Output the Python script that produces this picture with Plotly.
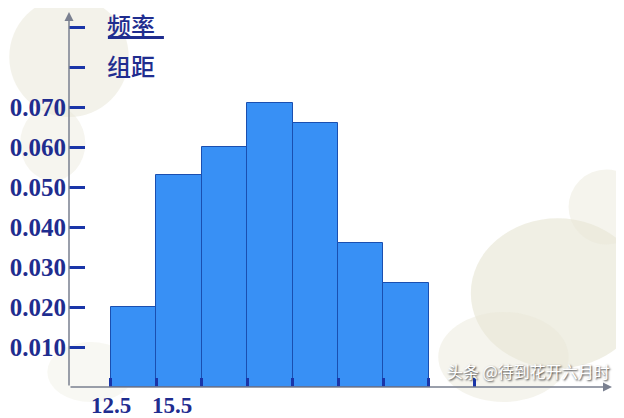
import plotly.graph_objects as go

# Data
edges = [12.5, 15.5, 18.5, 21.5, 24.5, 27.5, 30.5, 33.5]
freq_density = [0.020, 0.053, 0.060, 0.071, 0.066, 0.036, 0.026]
ytick_vals = [0.01, 0.02, 0.03, 0.04, 0.05, 0.06, 0.07, 0.08, 0.09]
ytick_text = ["0.010", "0.020", "0.030", "0.040", "0.050", "0.060", "0.070", "", ""]
xtick_vals = [12.5, 15.5, 18.5, 21.5, 24.5, 27.5, 30.5, 33.5, 36.5]
xlabels = ["12.5", "15.5"]

NAVY = "#1f2d8f"
centers = [(edges[i] + edges[i + 1]) / 2 for i in range(len(freq_density))]
widths = [edges[i + 1] - edges[i] for i in range(len(freq_density))]

fig = go.Figure()
fig.add_trace(go.Bar(
    x=centers, y=freq_density, width=widths,
    marker=dict(color="#3890f5", line=dict(color="#1a4fb0", width=1)),
    hoverinfo="skip",
))

X0, X1 = 9.73, 45.6
Y1 = 0.09375

shapes = []
# soft background blobs
for (cx, cy, rx, ry, col) in [
    (0.00, 0.88, 0.11, 0.16, "rgba(232,230,214,0.50)"),
    (-0.03, 0.65, 0.06, 0.10, "rgba(232,230,214,0.40)"),
    (0.90, 0.25, 0.16, 0.20, "rgba(228,226,206,0.55)"),
    (0.80, 0.08, 0.12, 0.12, "rgba(232,230,214,0.45)"),
    (0.99, 0.48, 0.07, 0.10, "rgba(232,230,214,0.45)"),
    (0.04, 0.04, 0.08, 0.08, "rgba(236,234,222,0.35)"),
]:
    shapes.append(dict(type="circle", xref="paper", yref="paper",
                       x0=cx - rx, x1=cx + rx, y0=cy - ry, y1=cy + ry,
                       fillcolor=col, line=dict(width=0), layer="below"))
# fraction line for 频率/组距
shapes.append(dict(type="line", xref="x", yref="y", x0=12.3, x1=16.0,
                   y0=0.0874, y1=0.0874, line=dict(color=NAVY, width=3)))

annotations = []
# axis arrows
annotations.append(dict(x=X0, y=Y1, ax=X0, ay=0, xref="x", yref="y", axref="x", ayref="y",
                        showarrow=True, arrowhead=2, arrowsize=1.2, arrowwidth=1.5,
                        arrowcolor="#7a8090", text=""))
annotations.append(dict(x=X1, y=0, ax=X0, ay=0, xref="x", yref="y", axref="x", ayref="y",
                        showarrow=True, arrowhead=2, arrowsize=1.2, arrowwidth=1.5,
                        arrowcolor="#7a8090", text=""))
# y title
annotations.append(dict(x=12.2, y=0.0906, xref="x", yref="y", xanchor="left", yanchor="middle",
                        text="频率", showarrow=False, borderpad=0,
                        font=dict(family="Noto Sans CJK SC", size=24, color=NAVY, weight=500)))
annotations.append(dict(x=12.2, y=0.0805, xref="x", yref="y", xanchor="left", yanchor="middle",
                        text="组距", showarrow=False, borderpad=0,
                        font=dict(family="Noto Sans CJK SC", size=24, color=NAVY, weight=500)))
# x labels
for lab, xv, sh in zip(xlabels, edges[:2], [0, 16]):
    annotations.append(dict(x=xv, y=0, xref="x", yref="y", xanchor="center", yanchor="middle",
                            yshift=-18, xshift=sh, text=lab, showarrow=False,
                            font=dict(family="Liberation Serif", size=23, color=NAVY, weight="bold")))
# watermark
annotations.append(dict(x=1.0, y=0.005, xref="paper", yref="paper", xanchor="right", yanchor="bottom",
                        text="头条 @待到花开六月时", showarrow=False,
                        font=dict(family="Noto Sans CJK SC", size=16, color="white",
                                  shadow="1px 1px 2px #333")))

# page body has an 8px margin, so the figure is sized to fill the rest of the window
fig.update_layout(
    width=616, height=410,
    margin=dict(l=61, r=12, t=4, b=31),
    paper_bgcolor="white", plot_bgcolor="rgba(0,0,0,0)",
    showlegend=False, bargap=0,
    shapes=shapes, annotations=annotations,
    xaxis=dict(range=[X0, X1], showgrid=False, zeroline=False, showline=False,
               automargin=False,
               tickvals=xtick_vals, ticks="inside", ticklen=9, tickwidth=3,
               tickcolor="#1a35a8", showticklabels=False),
    yaxis=dict(range=[0, Y1], showgrid=False, zeroline=False, showline=False,
               automargin=False,
               tickvals=ytick_vals, ticktext=ytick_text, ticks="inside", ticklen=16,
               tickwidth=3, tickcolor="#1a35a8", ticklabelstandoff=2,
               tickfont=dict(family="Liberation Serif", size=25, color=NAVY, weight="bold")),
)

fig.write_html("out.html")
